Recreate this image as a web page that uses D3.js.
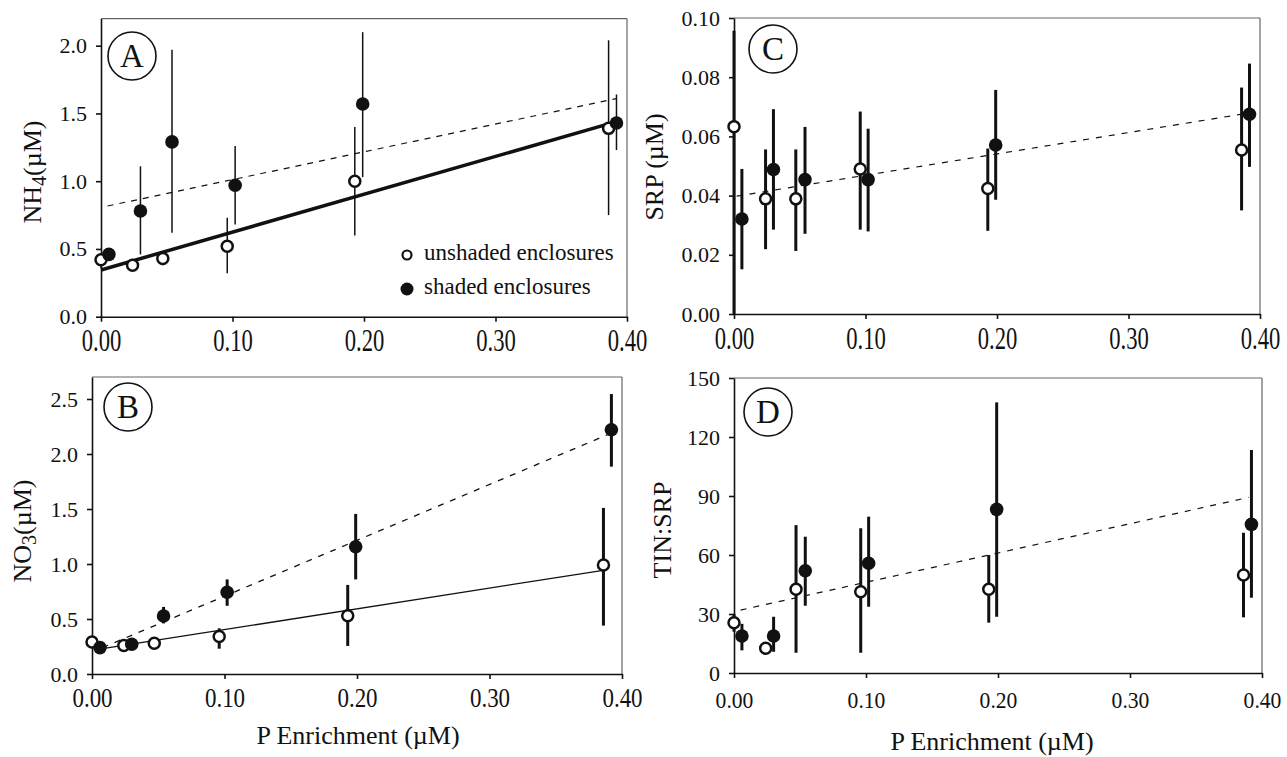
<!DOCTYPE html>
<html>
<head>
<meta charset="utf-8">
<script src="https://cdn.jsdelivr.net/npm/d3@7"></script>
<style>
  body { margin: 0; background: #fff; }
  svg text { font-family: "Liberation Serif", "Times New Roman", serif; fill: #111; }
</style>
</head>
<body>
<div id="chart"></div>
<script>
// Data
var xTicks = [0, 0.1, 0.2, 0.3, 0.4];
var xUnshaded = [0.000, 0.024, 0.047, 0.096, 0.193, 0.386];
var xShaded = [0.006, 0.030, 0.054, 0.102, 0.199, 0.392];

// A: NH4
var nh4Unshaded = [0.42, 0.38, 0.43, 0.52, 1.00, 1.39];
var nh4UnshadedLo = [0.36, 0.35, 0.38, 0.32, 0.60, 0.75];
var nh4UnshadedHi = [0.47, 0.41, 0.47, 0.73, 1.40, 2.04];
var nh4Shaded = [0.46, 0.78, 1.29, 0.97, 1.57, 1.43];
var nh4ShadedLo = [0.43, 0.46, 0.62, 0.68, 1.03, 1.23];
var nh4ShadedHi = [0.49, 1.11, 1.97, 1.26, 2.10, 1.64];
var nh4FitUnshaded = [[0.000, 0.345], [0.392, 1.44]];
var nh4FitShaded = [[0.005, 0.817], [0.392, 1.61]];
var nh4Ticks = [0, 0.5, 1.0, 1.5, 2.0];

// B: NO3
var no3Unshaded = [0.29, 0.26, 0.28, 0.34, 0.53, 0.99];
var no3UnshadedLo = [0.26, 0.24, 0.26, 0.23, 0.255, 0.44];
var no3UnshadedHi = [0.32, 0.28, 0.30, 0.415, 0.81, 1.51];
var no3Shaded = [0.24, 0.27, 0.527, 0.743, 1.157, 2.22];
var no3ShadedLo = [0.22, 0.25, 0.46, 0.62, 0.86, 1.885];
var no3ShadedHi = [0.26, 0.30, 0.61, 0.86, 1.455, 2.545];
var no3FitUnshaded = [[0.008, 0.23], [0.387, 0.945]];
var no3FitShaded = [[0.008, 0.24], [0.392, 2.19]];
var no3Ticks = [0, 0.5, 1.0, 1.5, 2.0, 2.5];

// C: SRP
var srpUnshaded = [0.0633, 0.0389, 0.0389, 0.049, 0.0424, 0.0554];
var srpUnshadedLo = [0.0, 0.0219, 0.0213, 0.0285, 0.0281, 0.035];
var srpUnshadedHi = [0.0957, 0.0556, 0.0556, 0.0684, 0.0559, 0.0765];
var srpShaded = [0.0321, 0.0488, 0.0454, 0.0454, 0.0571, 0.0675];
var srpShadedLo = [0.0151, 0.0285, 0.0271, 0.0279, 0.0386, 0.0497];
var srpShadedHi = [0.049, 0.0692, 0.0632, 0.0626, 0.0757, 0.0846];
var srpFitShaded = [[0.002, 0.0398], [0.393, 0.068]];
var srpTicks = [0, 0.02, 0.04, 0.06, 0.08, 0.10];

// D: TIN:SRP
var tinUnshaded = [25.6, 12.6, 42.6, 41.3, 42.6, 49.8];
var tinUnshadedLo = [21, 10, 10.3, 10.3, 25.6, 28.3];
var tinUnshadedHi = [30, 15, 75.2, 73.6, 60, 71.3];
var tinShaded = [18.8, 18.8, 52, 55.8, 83.2, 75.6];
var tinShadedLo = [11.5, 10.8, 34.2, 33.7, 28.6, 38.3];
var tinShadedHi = [25, 28.6, 69.3, 79.5, 137.6, 113.4];
var tinFitShaded = [[0.005, 32], [0.39, 89.3]];
var tinTicks = [0, 30, 60, 90, 120, 150];

var width = 1287;
var height = 757;

var svg = d3.select('#chart')
    .append('svg')
    .attr('width', width)
    .attr('height', height);

function series(xs, ys, lo, hi) {
    return xs.map(function (x, i) { return { x: x, y: ys[i], lo: lo[i], hi: hi[i] }; });
}

function drawPanel(p) {
    var x = d3.scaleLinear().domain([0, 0.4]).range([p.left, p.right]);
    var y = d3.scaleLinear().domain([0, p.yMax]).range([p.bottom, p.top]);
    var g = svg.append('g');

    // frame: top & right lighter
    g.append('line')
        .attr('x1', p.left).attr('x2', p.right)
        .attr('y1', p.top).attr('y2', p.top)
        .attr('stroke', '#666').attr('stroke-width', 1.2);
    g.append('line')
        .attr('x1', p.right).attr('x2', p.right)
        .attr('y1', p.top).attr('y2', p.bottom)
        .attr('stroke', '#666').attr('stroke-width', 1.2);

    var xAxis = d3.axisBottom(x).tickValues(xTicks).tickFormat(d3.format('.2f'))
        .tickSize(5).tickSizeOuter(0).tickPadding(p.xPad);
    var xg = g.append('g')
        .attr('transform', 'translate(0,' + p.bottom + ')')
        .call(xAxis);
    // x tick labels in the scan are taller than they are wide
    xg.selectAll('.tick text')
        .style('font-family', '"Liberation Serif", serif')
        .style('font-size', p.xFont + 'px')
        .attr('transform', 'scale(' + p.xSqueeze + ',1)');

    var yAxis = d3.axisLeft(y).tickValues(p.yTicks).tickFormat(d3.format(p.yFmt))
        .tickSize(5).tickSizeOuter(0).tickPadding(9);
    var yg = g.append('g')
        .attr('transform', 'translate(' + p.left + ',0)')
        .call(yAxis);
    yg.selectAll('.tick text')
        .style('font-family', '"Liberation Serif", serif')
        .style('font-size', '22px');

    g.selectAll('.domain').attr('stroke', '#111').attr('stroke-width', 1.6);
    g.selectAll('.tick line').attr('stroke', '#111').attr('stroke-width', 1.6);
    g.selectAll('.tick text').attr('fill', '#111');

    // fitted lines
    var line = d3.line().x(function (d) { return x(d[0]); }).y(function (d) { return y(d[1]); });
    p.fits.forEach(function (f) {
        g.append('path')
            .datum(f.data)
            .attr('d', line)
            .attr('fill', 'none')
            .attr('stroke', '#111')
            .attr('stroke-width', f.w)
            .attr('stroke-dasharray', f.dash || null);
    });

    var open = series(xUnshaded, p.un, p.unLo, p.unHi);
    var filled = series(xShaded, p.sh, p.shLo, p.shHi);

    // error bars
    g.selectAll('.err').data(open.concat(filled)).enter()
        .append('line')
        .attr('x1', function (d) { return x(d.x); })
        .attr('x2', function (d) { return x(d.x); })
        .attr('y1', function (d) { return y(d.lo); })
        .attr('y2', function (d) { return y(d.hi); })
        .attr('stroke', '#111')
        .attr('stroke-width', p.errW);

    g.selectAll('.open').data(open).enter()
        .append('circle')
        .attr('cx', function (d) { return x(d.x); })
        .attr('cy', function (d) { return y(d.y); })
        .attr('r', 5.5)
        .attr('fill', '#fff')
        .attr('stroke', '#111')
        .attr('stroke-width', 2.5);

    g.selectAll('.filled').data(filled).enter()
        .append('circle')
        .attr('cx', function (d) { return x(d.x); })
        .attr('cy', function (d) { return y(d.y); })
        .attr('r', 6.8)
        .attr('fill', '#111');

    // circled letter
    g.append('circle')
        .attr('cx', p.letterX).attr('cy', p.letterY).attr('r', 24)
        .attr('fill', 'none').attr('stroke', '#111').attr('stroke-width', 1.6);
    g.append('text')
        .attr('x', p.letterX).attr('y', p.letterY + 11)
        .attr('text-anchor', 'middle')
        .style('font-size', '33px')
        .text(p.letter);

    // y title
    var yt = g.append('text')
        .attr('transform', 'translate(' + p.yTitleX + ',' + p.yTitleY + ') rotate(-90)')
        .attr('text-anchor', 'middle')
        .style('font-size', '26px');
    p.yTitle.forEach(function (t) {
        yt.append('tspan')
            .attr('baseline-shift', t.sub ? '-25%' : null)
            .style('font-size', t.sub ? '20px' : null)
            .text(t.s);
    });

    if (p.xTitle) {
        g.append('text')
            .attr('x', p.xTitleX).attr('y', p.xTitleY)
            .attr('text-anchor', 'middle')
            .style('font-size', '26px')
            .text('P Enrichment (\u00b5M)');
    }
    return { x: x, y: y, g: g };
}

var pA = drawPanel({
    left: 101, right: 627, top: 18.6, bottom: 316.7, yMax: 2.2,
    yTicks: nh4Ticks, yFmt: '.1f', errW: 1.5,
    xFont: 31, xSqueeze: 0.73, xPad: 7,
    un: nh4Unshaded, unLo: nh4UnshadedLo, unHi: nh4UnshadedHi,
    sh: nh4Shaded, shLo: nh4ShadedLo, shHi: nh4ShadedHi,
    fits: [{ data: nh4FitUnshaded, w: 3.5 }, { data: nh4FitShaded, w: 1.2, dash: '6,6' }],
    letter: 'A', letterX: 132, letterY: 56,
    yTitle: [{ s: 'NH' }, { s: '4', sub: true }, { s: '(\u00b5M)' }], yTitleX: 41, yTitleY: 172
});

drawPanel({
    left: 92, right: 622, top: 377, bottom: 674, yMax: 2.7,
    yTicks: no3Ticks, yFmt: '.1f', errW: 3,
    xFont: 28, xSqueeze: 0.82, xPad: 8,
    un: no3Unshaded, unLo: no3UnshadedLo, unHi: no3UnshadedHi,
    sh: no3Shaded, shLo: no3ShadedLo, shHi: no3ShadedHi,
    fits: [{ data: no3FitUnshaded, w: 1.3 }, { data: no3FitShaded, w: 1.3, dash: '6,7' }],
    letter: 'B', letterX: 128, letterY: 407,
    yTitle: [{ s: 'NO' }, { s: '3', sub: true }, { s: '(\u00b5M)' }], yTitleX: 31, yTitleY: 531,
    xTitle: true, xTitleX: 358, xTitleY: 744
});

drawPanel({
    left: 734, right: 1260, top: 18, bottom: 314, yMax: 0.10,
    yTicks: srpTicks, yFmt: '.2f', errW: 3,
    xFont: 31, xSqueeze: 0.73, xPad: 8,
    un: srpUnshaded, unLo: srpUnshadedLo, unHi: srpUnshadedHi,
    sh: srpShaded, shLo: srpShadedLo, shHi: srpShadedHi,
    fits: [{ data: srpFitShaded, w: 1.2, dash: '6,7' }],
    letter: 'C', letterX: 773, letterY: 49,
    yTitle: [{ s: 'SRP (\u00b5M)' }], yTitleX: 663, yTitleY: 167
});

drawPanel({
    left: 734, right: 1262, top: 378, bottom: 673, yMax: 150,
    yTicks: tinTicks, yFmt: 'd', errW: 3,
    xFont: 24, xSqueeze: 0.9, xPad: 13,
    un: tinUnshaded, unLo: tinUnshadedLo, unHi: tinUnshadedHi,
    sh: tinShaded, shLo: tinShadedLo, shHi: tinShadedHi,
    fits: [{ data: tinFitShaded, w: 1.2, dash: '6,7' }],
    letter: 'D', letterX: 768, letterY: 412,
    yTitle: [{ s: 'TIN:SRP' }], yTitleX: 671, yTitleY: 530,
    xTitle: true, xTitleX: 992, xTitleY: 750
});

// Legend in panel A
var legend = pA.g.append('g');
legend.append('circle')
    .attr('cx', 407).attr('cy', 255).attr('r', 4.5)
    .attr('fill', '#fff').attr('stroke', '#111').attr('stroke-width', 2.2);
legend.append('text')
    .attr('x', 424).attr('y', 260)
    .style('font-size', '23px')
    .text('unshaded enclosures');
legend.append('circle')
    .attr('cx', 407).attr('cy', 289).attr('r', 6.5)
    .attr('fill', '#111');
legend.append('text')
    .attr('x', 424).attr('y', 294)
    .style('font-size', '23px')
    .text('shaded enclosures');
</script>
</body>
</html>
